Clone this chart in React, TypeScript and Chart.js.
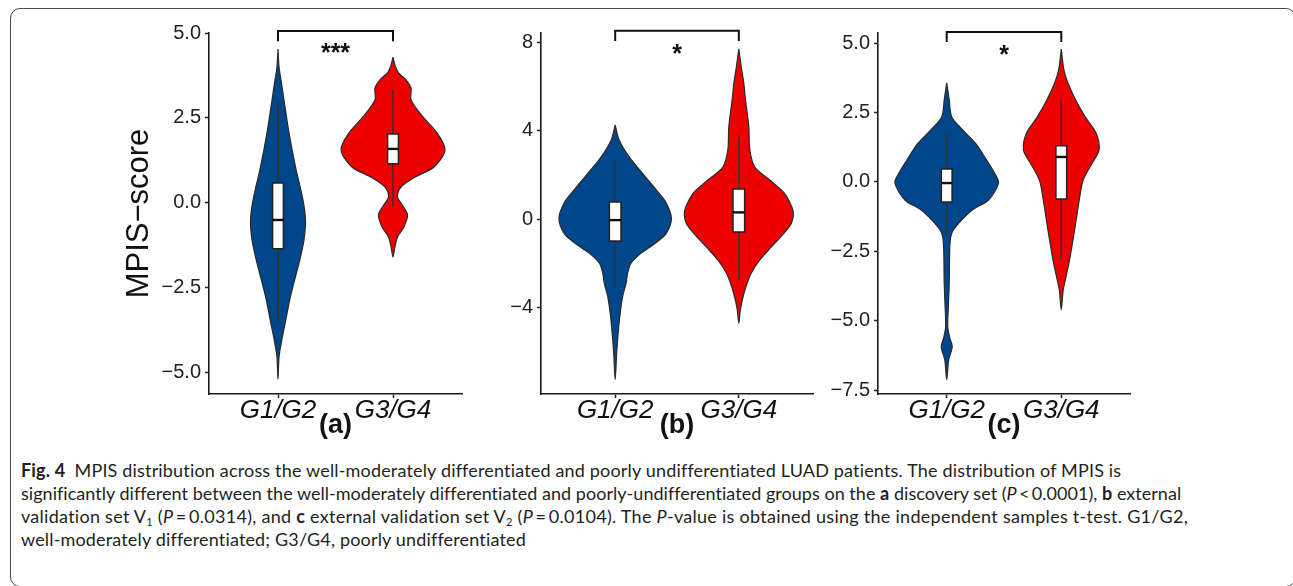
import React, { useEffect, useRef } from 'react';
import { Chart, registerables } from 'chart.js';

Chart.register(...registerables);

// ---------------- data ----------------
const GROUPS = ['G1/G2', 'G3/G4'];
const GROUP_X = [1, 2];
const X_RANGE = [0.4, 2.6];
const PANEL_TAGS = ['(a)', '(b)', '(c)'];
const SIG_LABELS = ['***', '*', '*'];
const Y_TITLE = 'MPIS\u2212score';

const A_TICKS = [-5, -2.5, 0, 2.5, 5];
const B_TICKS = [-4, 0, 4, 8];
const C_TICKS = [-7.5, -5, -2.5, 0, 2.5, 5];
const A_RANGE = [-5.62, 5.0];
const B_RANGE = [-7.95, 8.45];
const C_RANGE = [-7.63, 5.36];
const TICK_DECIMALS = [1, 0, 1];

// violin outlines: score levels (top -> bottom) and half-widths in x units
const A_G12_Y = [4.53, 4.0, 3.62, 3.03, 2.06, 1.06, 0.09, -0.5, -1.09, -1.68, -2.26, -2.85, -3.44, -4.03, -4.53, -5.18];
const A_G12_W = [0, 0.009, 0.026, 0.052, 0.096, 0.152, 0.217, 0.239, 0.226, 0.189, 0.145, 0.102, 0.068, 0.033, 0.009, 0];
const A_G34_Y = [4.29, 4.06, 3.85, 3.62, 3.38, 3.03, 2.53, 2.06, 1.56, 1.06, 0.76, 0.47, 0.18, -0.05, -0.35, -0.7, -1.0, -1.29, -1.59];
const A_G34_W = [0, 0.017, 0.043, 0.113, 0.157, 0.157, 0.261, 0.383, 0.452, 0.357, 0.19, 0.07, 0.039, 0.078, 0.126, 0.096, 0.039, 0.017, 0];

const B_G12_Y = [4.27, 3.59, 2.82, 2.09, 1.32, 0.73, 0.02, -0.65, -1.1, -1.55, -2.0, -2.45, -2.9, -3.5, -4.3, -5.2, -6.1, -7.3];
const B_G12_W = [0, 0.032, 0.113, 0.218, 0.332, 0.413, 0.455, 0.413, 0.324, 0.21, 0.129, 0.101, 0.089, 0.061, 0.04, 0.024, 0.012, 0];
const B_G34_Y = [7.73, 6.9, 6.18, 5.41, 4.18, 3.14, 2.36, 1.77, 1.18, 0.55, 0.2, -0.2, -0.65, -1.27, -1.86, -2.45, -3.09, -3.68, -4.14, -4.73];
const B_G34_W = [0, 0.02, 0.04, 0.054, 0.081, 0.089, 0.129, 0.251, 0.368, 0.429, 0.441, 0.425, 0.364, 0.263, 0.17, 0.101, 0.057, 0.028, 0.012, 0];

const C_G12_Y = [3.57, 2.95, 2.35, 1.87, 1.39, 0.79, 0.32, -0.04, -0.65, -1.0, -1.37, -1.73, -1.98, -2.45, -3.63, -4.6, -5.2, -5.6, -5.93, -6.4, -7.12];
const C_G12_W = [0, 0.022, 0.043, 0.139, 0.252, 0.348, 0.417, 0.452, 0.365, 0.226, 0.13, 0.058, 0.035, 0.026, 0.022, 0.013, 0.009, 0.026, 0.048, 0.017, 0];
const C_G34_Y = [4.78, 4.03, 3.56, 2.95, 2.34, 1.76, 1.15, 0.68, 0.07, -0.65, -1.37, -2.09, -2.81, -3.53, -3.88, -4.6];
const C_G34_W = [0, 0.023, 0.058, 0.126, 0.209, 0.304, 0.33, 0.27, 0.191, 0.157, 0.13, 0.102, 0.072, 0.035, 0.017, 0];

// box stats: [lower whisker, Q1, median, Q3, upper whisker]
const A_G12_BOX = [-3.5, -1.35, -0.5, 0.59, 2.88];
const A_G34_BOX = [-0.12, 1.15, 1.59, 2.03, 3.32];
const B_G12_BOX = [-3.2, -1.0, -0.05, 0.77, 2.68];
const B_G34_BOX = [-2.77, -0.59, 0.3, 1.36, 3.73];
const C_G12_BOX = [-1.9, -0.72, -0.04, 0.47, 1.77];
const C_G34_BOX = [-2.8, -0.61, 0.9, 1.3, 2.95];
const BOX_HALF = 0.047;

// significance brackets: [leg end, bar level]; star glyph centre level
const A_BRACKET = [4.76, 5.06];
const B_BRACKET = [8.09, 8.55];
const C_BRACKET = [5.04, 5.4];
const STAR_Y = [4.59, 7.77, 4.82];

// ---------------- styling ----------------
const FILLS = ['#00468B', '#ED0000'];
const FONT = '"Liberation Sans", Arial, Helvetica, sans-serif';
const CANVAS_H = 442;
const X_AXIS_H = 48;
const LAYOUT = [
  { left: 100, width: 380, yAxisWidth: 109, padRight: 18 },
  { left: 482, width: 350, yAxisWidth: 59, padRight: 19 },
  { left: 778, width: 380, yAxisWidth: 100, padRight: 28 },
];

const PANELS = [
  { ticks: A_TICKS, range: A_RANGE, violins: [[A_G12_Y, A_G12_W], [A_G34_Y, A_G34_W]], boxes: [A_G12_BOX, A_G34_BOX], bracket: A_BRACKET },
  { ticks: B_TICKS, range: B_RANGE, violins: [[B_G12_Y, B_G12_W], [B_G34_Y, B_G34_W]], boxes: [B_G12_BOX, B_G34_BOX], bracket: B_BRACKET },
  { ticks: C_TICKS, range: C_RANGE, violins: [[C_G12_Y, C_G12_W], [C_G34_Y, C_G34_W]], boxes: [C_G12_BOX, C_G34_BOX], bracket: C_BRACKET },
];

function fmt(v: number, dec: number) {
  return (v < 0 ? '\u2212' : '') + Math.abs(v).toFixed(dec);
}

function violinOutline(center: number, ys: number[], ws: number[]) {
  const pts = ys.map((y, i) => ({ x: center + ws[i], y }));
  for (let i = ys.length - 2; i >= 0; i--) pts.push({ x: center - ws[i], y: ys[i] });
  return pts;
}

function buildDatasets(p: any) {
  const ds: any[] = [];
  GROUP_X.forEach((cx, g) => {
    const [ys, ws] = p.violins[g];
    const [lo, q1, med, q3, hi] = p.boxes[g];
    ds.push({
      data: violinOutline(cx, ys, ws),
      fill: 'shape',
      backgroundColor: FILLS[g],
      borderColor: '#2a2a2a',
      borderWidth: 1.2,
      tension: 0.3,
      order: 4,
    });
    ds.push({
      data: [{ x: cx, y: lo }, { x: cx, y: hi }],
      borderColor: '#333333',
      borderWidth: 1.6,
      tension: 0,
      fill: false,
      order: 3,
    });
    ds.push({
      data: [
        { x: cx - BOX_HALF, y: q1 }, { x: cx + BOX_HALF, y: q1 }, { x: cx + BOX_HALF, y: q3 },
        { x: cx - BOX_HALF, y: q3 }, { x: cx - BOX_HALF, y: q1 },
      ],
      fill: 'shape',
      backgroundColor: '#ffffff',
      borderColor: '#222222',
      borderWidth: 1.5,
      tension: 0,
      order: 2,
    });
    ds.push({
      data: [{ x: cx - BOX_HALF, y: med }, { x: cx + BOX_HALF, y: med }],
      borderColor: '#111111',
      borderWidth: 2.4,
      tension: 0,
      fill: false,
      order: 1,
    });
  });
  const [legY, barY] = p.bracket;
  ds.push({
    data: [
      { x: GROUP_X[0], y: legY }, { x: GROUP_X[0], y: barY },
      { x: GROUP_X[1], y: barY }, { x: GROUP_X[1], y: legY },
    ],
    borderColor: '#111111',
    borderWidth: 2,
    tension: 0,
    fill: false,
    clip: false,
    order: 0,
  });
  return ds;
}

function Panel({ idx }: { idx: number }) {
  const ref = useRef<HTMLCanvasElement>(null);
  const L = LAYOUT[idx];
  useEffect(() => {
    const p = PANELS[idx];
    const starPlugin = {
      id: 'sigStars' + idx,
      afterDatasetsDraw(chart: any) {
        const { ctx, scales } = chart;
        const size = 25;
        ctx.save();
        ctx.font = `bold ${size}px ${FONT}`;
        ctx.fillStyle = '#111111';
        ctx.textAlign = 'center';
        ctx.textBaseline = 'alphabetic';
        const x = scales.x.getPixelForValue((GROUP_X[0] + GROUP_X[1]) / 2);
        const y = scales.y.getPixelForValue(STAR_Y[idx]) + size * 0.58;
        ctx.fillText(SIG_LABELS[idx], x, y);
        ctx.restore();
      },
    };
    const axisCommon = {
      grid: { display: true, drawOnChartArea: false, drawTicks: true, tickLength: 4, tickColor: '#222222', tickWidth: 1.5 },
      border: { display: true, color: '#1a1a1a', width: 1.6 },
    };
    const chart = new Chart(ref.current as HTMLCanvasElement, {
      type: 'line',
      data: { datasets: buildDatasets(p) },
      options: {
        responsive: false,
        animation: false,
        devicePixelRatio: 1,
        events: [],
        layout: { padding: { left: 0, right: L.padRight, top: 33, bottom: 0 } },
        plugins: { legend: { display: false }, tooltip: { enabled: false }, title: { display: false } },
        elements: { point: { radius: 0, hoverRadius: 0 } },
        scales: {
          x: {
            type: 'linear',
            min: X_RANGE[0],
            max: X_RANGE[1],
            afterBuildTicks: (s: any) => { s.ticks = GROUP_X.map((v) => ({ value: v })); },
            afterFit: (s: any) => { s.height = X_AXIS_H; },
            ticks: {
              callback: (_v: any, i: number) => GROUPS[i],
              font: { family: FONT, size: 26, style: 'italic' },
              color: '#111111',
              padding: -3,
              maxRotation: 0,
              autoSkip: false,
            },
            ...axisCommon,
            title: {
              display: true,
              text: PANEL_TAGS[idx],
              font: { family: FONT, size: 27, weight: 'bold' },
              color: '#111111',
              padding: { top: 0, bottom: 0 },
            },
          },
          y: {
            type: 'linear',
            min: p.range[0],
            max: p.range[1],
            afterBuildTicks: (s: any) => { s.ticks = p.ticks.map((v: number) => ({ value: v })); },
            afterFit: (s: any) => { s.width = L.yAxisWidth; },
            ticks: {
              callback: (v: any) => fmt(Number(v), TICK_DECIMALS[idx]),
              font: { family: FONT, size: 20 },
              color: '#222222',
              padding: 4,
              autoSkip: false,
            },
            ...axisCommon,
            title: {
              display: idx === 0,
              text: Y_TITLE,
              font: { family: FONT, size: 31 },
              color: '#111111',
              padding: { top: 21, bottom: 0 },
            },
          },
        },
      } as any,
      plugins: [starPlugin],
    });
    return () => chart.destroy();
  }, [idx]);
  return (
    <canvas
      ref={ref}
      width={L.width}
      height={CANVAS_H}
      style={{ position: 'absolute', left: L.left, top: 0, width: L.width, height: CANVAS_H }}
    />
  );
}

const CAP_FONT = 'Lato, "Open Sans", "Noto Sans", sans-serif';
const capLine = (top: number, spacing: number): React.CSSProperties => ({
  position: 'absolute',
  left: 21,
  top,
  whiteSpace: 'nowrap',
  fontFamily: CAP_FONT,
  fontSize: 18,
  lineHeight: '24px',
  letterSpacing: spacing,
  color: '#231f20',
});
const subStyle: React.CSSProperties = { fontSize: 11, verticalAlign: '-3px', lineHeight: 0 };
const T = '\u2009';

function Caption() {
  return (
    <>
      <div style={capLine(458, 0.17)}>
        <b>Fig. 4</b>{'\u2002'}MPIS distribution across the well-moderately differentiated and poorly undifferentiated LUAD patients. The distribution of MPIS is
      </div>
      <div style={capLine(481, 0.03)}>
        significantly different between the well-moderately differentiated and poorly-undifferentiated groups on the <b>a</b> discovery set (<i>P</i>{T}&lt;{T}0.0001), <b>b</b> external
      </div>
      <div style={capLine(504, 0.27)}>
        validation set V<span style={subStyle}>1</span> (<i>P</i>{T}={T}0.0314), and <b>c</b> external validation set V<span style={subStyle}>2</span> (<i>P</i>{T}={T}0.0104). The <i>P</i>-value is obtained using the independent samples t-test. G1/G2,
      </div>
      <div style={capLine(527, 0.16)}>
        well-moderately differentiated; G3/G4, poorly undifferentiated
      </div>
    </>
  );
}

export default function App() {
  return (
    <div style={{ position: 'fixed', left: 0, top: 0, width: 1293, height: 586, overflow: 'hidden', background: '#ffffff' }}>
      <div
        style={{
          position: 'absolute', left: 10, top: 8, width: 1286, height: 579,
          border: '1.5px solid #4a4a4a', borderRadius: 10, boxSizing: 'border-box',
        }}
      />
      {PANELS.map((_, i) => <Panel key={i} idx={i} />)}
      <Caption />
    </div>
  );
}
